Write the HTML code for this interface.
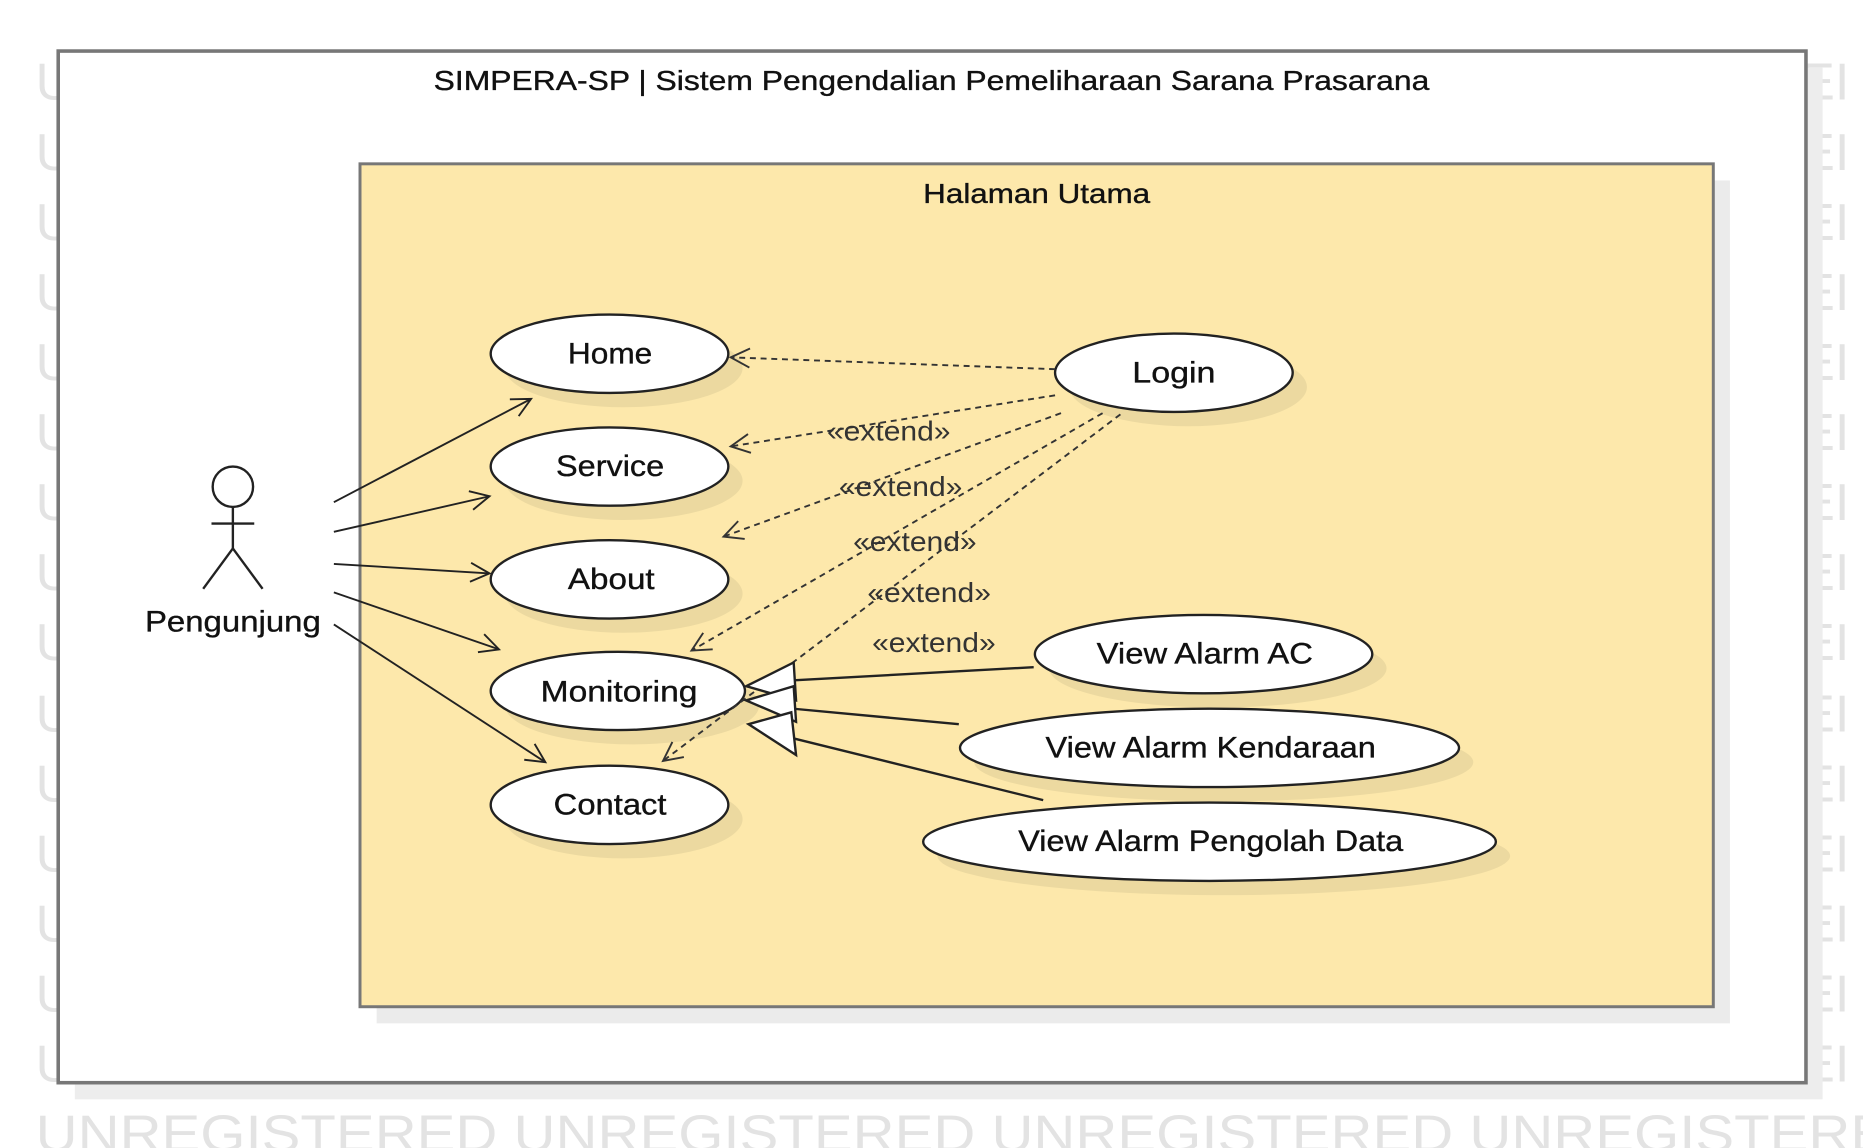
<!DOCTYPE html>
<html><head><meta charset="utf-8"><style>
html,body{margin:0;padding:0;background:#fff;}
svg{display:block;}
text{font-family:"Liberation Sans",sans-serif;}
</style></head><body>
<svg width="1863" height="1148" viewBox="0 0 1568 967" preserveAspectRatio="none" xmlns="http://www.w3.org/2000/svg">
<defs>
<marker id="oa" markerUnits="userSpaceOnUse" markerWidth="30" markerHeight="30" refX="17" refY="9" orient="auto">
<path d="M1,1 L17,9 L1,17" fill="none" stroke="#222" stroke-width="1.6"/>
</marker>
<marker id="da" markerUnits="userSpaceOnUse" markerWidth="30" markerHeight="30" refX="17" refY="9" orient="auto">
<path d="M1,1 L17,9 L1,17" fill="none" stroke="#333" stroke-width="1.6"/>
</marker>
</defs>
<g fill="#e3e3e3" font-size="44" font-family="Liberation Sans, sans-serif">
<text x="30" y="84">U</text><text x="1515" y="84">EI</text>
<text x="30" y="143">U</text><text x="1515" y="143">EI</text>
<text x="30" y="202">U</text><text x="1515" y="202">EI</text>
<text x="30" y="261">U</text><text x="1515" y="261">EI</text>
<text x="30" y="320">U</text><text x="1515" y="320">EI</text>
<text x="30" y="379">U</text><text x="1515" y="379">EI</text>
<text x="30" y="438">U</text><text x="1515" y="438">EI</text>
<text x="30" y="497">U</text><text x="1515" y="497">EI</text>
<text x="30" y="556">U</text><text x="1515" y="556">EI</text>
<text x="30" y="616">U</text><text x="1515" y="616">EI</text>
<text x="30" y="675">U</text><text x="1515" y="675">EI</text>
<text x="30" y="734">U</text><text x="1515" y="734">EI</text>
<text x="30" y="793">U</text><text x="1515" y="793">EI</text>
<text x="30" y="852">U</text><text x="1515" y="852">EI</text>
<text x="30" y="911">U</text><text x="1515" y="911">EI</text>
<text x="30" y="970" textLength="1560" lengthAdjust="spacingAndGlyphs">UNREGISTERED UNREGISTERED UNREGISTERED UNREGISTERE</text>
</g>
<rect x="63" y="57" width="1471" height="869" fill="#ededed"/>
<rect x="49" y="43" width="1471" height="869" fill="#fff" stroke="#777" stroke-width="3"/>
<g lengthAdjust="spacingAndGlyphs" fill="#111" stroke="#111" stroke-width="0.3">
<text x="365" y="76" font-size="23" textLength="838" lengthAdjust="spacingAndGlyphs">SIMPERA-SP | Sistem Pengendalian Pemeliharaan Sarana Prasarana</text>
</g>
<rect x="317" y="152" width="1139" height="710" fill="#ebebeb"/>
<rect x="303" y="138" width="1139" height="710" fill="#fde8ab" stroke="#777" stroke-width="2.5"/>
<text x="777" y="171" font-size="23" textLength="191" lengthAdjust="spacingAndGlyphs" fill="#111" stroke="#111" stroke-width="0.3">Halaman Utama</text>

<g fill="#ecd9a0">
<ellipse cx="525" cy="310" rx="100" ry="33"/>
<ellipse cx="525" cy="405" rx="100" ry="33"/>
<ellipse cx="525" cy="500" rx="100" ry="33"/>
<ellipse cx="532" cy="594" rx="107" ry="33"/>
<ellipse cx="525" cy="690" rx="100" ry="33"/>
<ellipse cx="1000" cy="326" rx="100" ry="33"/>
<ellipse cx="1025" cy="563" rx="142" ry="33"/>
<ellipse cx="1030" cy="642" rx="210" ry="33"/>
<ellipse cx="1030" cy="721" rx="241" ry="33"/>
</g>
<g fill="#fff" stroke="#222" stroke-width="2">
<ellipse cx="513" cy="298" rx="100" ry="33"/>
<ellipse cx="513" cy="393" rx="100" ry="33"/>
<ellipse cx="513" cy="488" rx="100" ry="33"/>
<ellipse cx="520" cy="582" rx="107" ry="33"/>
<ellipse cx="513" cy="678" rx="100" ry="33"/>
<ellipse cx="988" cy="314" rx="100" ry="33"/>
<ellipse cx="1013" cy="551" rx="142" ry="33"/>
<ellipse cx="1018" cy="630" rx="210" ry="33"/>
<ellipse cx="1018" cy="709" rx="241" ry="33"/>
</g>
<g font-size="25" fill="#111" stroke="#111" stroke-width="0.3">
<text x="478" y="306" textLength="71" lengthAdjust="spacingAndGlyphs">Home</text>
<text x="468" y="401" textLength="91" lengthAdjust="spacingAndGlyphs">Service</text>
<text x="478" y="496" textLength="73" lengthAdjust="spacingAndGlyphs">About</text>
<text x="455" y="591" textLength="132" lengthAdjust="spacingAndGlyphs">Monitoring</text>
<text x="466" y="686" textLength="95" lengthAdjust="spacingAndGlyphs">Contact</text>
<text x="953" y="322" textLength="70" lengthAdjust="spacingAndGlyphs">Login</text>
<text x="923" y="559" textLength="182" lengthAdjust="spacingAndGlyphs">View Alarm AC</text>
<text x="880" y="638" textLength="278" lengthAdjust="spacingAndGlyphs">View Alarm Kendaraan</text>
<text x="857" y="717" textLength="324" lengthAdjust="spacingAndGlyphs">View Alarm Pengolah Data</text>
<text x="122" y="532" textLength="148" lengthAdjust="spacingAndGlyphs">Pengunjung</text>
</g>

<g stroke="#222" stroke-width="2" fill="none">
<circle cx="196" cy="410" r="17" fill="#fff"/>
<line x1="196" y1="427" x2="196" y2="462"/>
<line x1="178" y1="441" x2="214" y2="441"/>
<line x1="196" y1="462" x2="171" y2="496"/>
<line x1="196" y1="462" x2="221" y2="496"/>
</g>

<g stroke="#222" stroke-width="1.6" fill="none" marker-end="url(#oa)">
<line x1="281" y1="423" x2="447" y2="336"/>
<line x1="281" y1="448" x2="412" y2="418"/>
<line x1="281" y1="475" x2="412" y2="483"/>
<line x1="281" y1="499" x2="420" y2="547"/>
<line x1="281" y1="526" x2="459" y2="642"/>
</g>

<g stroke="#333" stroke-width="1.6" fill="none" stroke-dasharray="5,4" marker-end="url(#da)">
<line x1="888" y1="311" x2="615" y2="301"/>
<line x1="888" y1="333" x2="615" y2="376"/>
<line x1="893" y1="348" x2="609" y2="452"/>
<line x1="928" y1="348" x2="582" y2="548"/>
<line x1="943" y1="349" x2="558" y2="641"/>
</g>
<g font-size="23" fill="#333">
<text x="696" y="371" textLength="104" lengthAdjust="spacingAndGlyphs">«extend»</text>
<text x="706" y="418" textLength="104" lengthAdjust="spacingAndGlyphs">«extend»</text>
<text x="718" y="464" textLength="104" lengthAdjust="spacingAndGlyphs">«extend»</text>
<text x="730" y="507" textLength="104" lengthAdjust="spacingAndGlyphs">«extend»</text>
<text x="734" y="549" textLength="104" lengthAdjust="spacingAndGlyphs">«extend»</text>
</g>

<g stroke="#222" stroke-width="2" fill="#fff">
<line x1="870" y1="562" x2="668" y2="573"/>
<line x1="807" y1="610" x2="668" y2="597"/>
<line x1="878" y1="674" x2="668" y2="622"/>
<polygon points="628,578 668,558 670,590"/>
<polygon points="628,590 668,578 670,608"/>
<polygon points="630,610 666,600 670,636"/>
</g>
</svg>
</body></html>
